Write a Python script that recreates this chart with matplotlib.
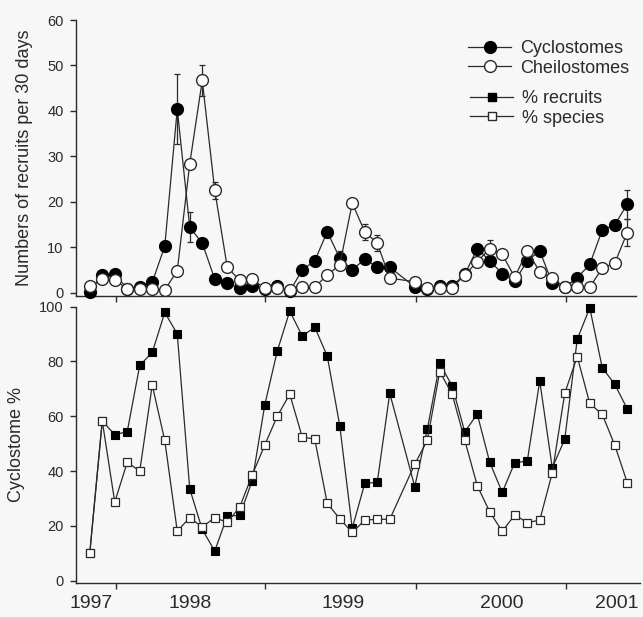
import numpy as np
import matplotlib
matplotlib.use("Agg")
import matplotlib.pyplot as plt
from matplotlib.lines import Line2D

plt.rcParams['font.family'] = ['Liberation Sans', 'DejaVu Sans']

# ---------------- data ----------------
# sampling month index (month 25 not sampled)
months = list(range(0, 25)) + list(range(26, 44))

cyclostomes = [0.2, 3.9, 4.2, 0.8, 1.2, 2.3, 10.2, 40.4, 14.4, 10.9, 3.0, 2.1, 1.0,
               1.4, 0.8, 1.4, 0.3, 5.0, 7.0, 13.4, 7.6, 5.0, 7.4, 5.6, 5.6,
               1.3, 0.9, 1.4, 1.5, 4.0, 9.7, 7.0, 4.2, 2.5, 7.0, 9.2, 2.1, 1.2,
               3.3, 6.2, 13.8, 14.9, 19.5]
cheilostomes = [1.4, 2.9, 2.8, 0.8, 0.8, 0.7, 0.6, 4.8, 28.4, 46.7, 22.5, 5.6, 2.7,
                2.9, 1.0, 1.1, 0.5, 1.2, 1.2, 3.9, 6.1, 19.7, 13.4, 10.9, 3.2,
                2.4, 1.0, 1.1, 1.1, 3.9, 6.8, 9.7, 8.4, 3.4, 9.2, 4.6, 3.2, 1.2,
                1.2, 1.2, 5.4, 6.5, 13.2]
# error bars (month -> error)
cyclo_err = {7: 7.7, 8: 3.3, 20: 1.5, 43: 3.2}
cheilo_err = {9: 3.4, 10: 1.9, 22: 1.8, 23: 1.7, 32: 1.9, 43: 2.9}

pct_recruits = [10.0, 58.3, 53.3, 54.4, 78.6, 83.3, 97.9, 90.1, 33.5, 18.7, 10.8, 23.6,
                23.8, 36.5, 64.1, 83.8, 98.4, 89.3, 92.5, 82.0, 56.6, 19.1, 35.5, 35.9,
                68.4, 34.3, 55.2, 79.3, 71.0, 54.3, 60.8, 43.2, 32.2, 43.1, 43.6, 72.9,
                41.2, 51.6, 88.1, 99.6, 77.7, 71.7, 62.7]
pct_species = [10.0, 58.3, 28.7, 43.2, 40.0, 71.4, 51.2, 18.1, 23.0, 19.6, 23.0, 21.3,
               26.9, 38.6, 49.5, 60.0, 68.1, 52.4, 51.7, 28.2, 22.6, 17.6, 22.1, 22.4,
               22.4, 42.5, 51.2, 76.3, 68.0, 51.3, 34.7, 25.1, 18.0, 24.0, 21.2, 22.1,
               39.3, 68.4, 81.8, 64.7, 60.7, 49.5, 35.8]

year_tick_months = [2.1, 14.05, 26.1, 38.1]
year_label_months = [0.1, 8.05, 20.3, 33.0, 42.2]
year_labels = ['1997', '1998', '1999', '2000', '2001']

top_yticks = [0, 10, 20, 30, 40, 50, 60]
bot_yticks = [0, 20, 40, 60, 80, 100]

# ---------------- style ----------------
W, H = 643, 617
bg = '#f8f7f7'
ink = '#2a2a2a'
fig = plt.figure(figsize=(W / 100, H / 100), dpi=100, facecolor=bg)

def px(l, t, r, b):
    return [l / W, 1 - b / H, (r - l) / W, (b - t) / H]

ax1 = fig.add_axes(px(76, 20, 636, 296.3), facecolor=bg)
ax2 = fig.add_axes(px(76, 306.7, 640, 582.6), facecolor=bg)

for ax in (ax1, ax2):
    for s in ('top', 'right'):
        ax.spines[s].set_visible(False)
    for s in ('left', 'bottom'):
        ax.spines[s].set_color(ink)
        ax.spines[s].set_linewidth(1.0)
    ax.tick_params(axis='both', which='major', direction='out', length=4, width=1,
                   color=ink, labelcolor=ink, labelsize=10.5, pad=5)

lw = 0.9
# ---- top panel
ax1.set_xlim(-1.1, 43.7)
ax1.set_ylim(-0.8, 60)
m_arr = np.array(months)
c_arr = np.array(cyclostomes)
h_arr = np.array(cheilostomes)
ce_idx = [months.index(k) for k in cyclo_err]
he_idx = [months.index(k) for k in cheilo_err]
ax1.errorbar(m_arr[ce_idx], c_arr[ce_idx], yerr=list(cyclo_err.values()), fmt='none',
             ecolor=ink, elinewidth=0.9, capsize=2.5, capthick=0.9, zorder=2)
ax1.errorbar(m_arr[he_idx], h_arr[he_idx], yerr=list(cheilo_err.values()), fmt='none',
             ecolor=ink, elinewidth=0.9, capsize=2.5, capthick=0.9, zorder=2)
ax1.plot(months, cyclostomes, '-o', color=ink, lw=lw, ms=8.5, mfc='black', mec='black',
         mew=1.0, clip_on=False, zorder=3)
ax1.plot(months, cheilostomes, '-o', color=ink, lw=lw, ms=8.5, mfc='white', mec=ink,
         mew=1.0, clip_on=False, zorder=4)
ax1.set_yticks(top_yticks)
ax1.set_xticks(year_tick_months)
ax1.set_xticklabels([])
ax1.set_ylabel('Numbers of recruits per 30 days', fontsize=13, color=ink)
ax1.yaxis.set_label_coords(-0.077, 0.5)

# ---- bottom panel
ax2.set_xlim(-1.1, 43.7 + 4 / 12.5)
ax2.set_ylim(-0.7, 100)
ax2.plot(months, pct_recruits, '-s', color=ink, lw=lw, ms=6, mfc='black', mec='black',
         mew=0.8, clip_on=False, zorder=3)
ax2.plot(months, pct_species, '-s', color=ink, lw=lw, ms=6, mfc='white', mec=ink,
         mew=0.9, clip_on=False, zorder=4)
ax2.set_yticks(bot_yticks)
ax2.set_xticks(year_tick_months)
ax2.set_xticklabels([])
ax2.set_xticks(year_label_months, minor=True)
ax2.set_xticklabels(year_labels, minor=True)
ax2.tick_params(axis='x', which='minor', length=0, labelsize=14, pad=9, labelcolor=ink)
ax2.set_ylabel('Cyclostome %', fontsize=13, color=ink)
ax2.yaxis.set_label_coords(-0.09, 0.5)

# ---- legends
h_c = Line2D([], [], color=ink, lw=lw, marker='o', ms=8.5, mfc='black', mec='black')
h_h = Line2D([], [], color=ink, lw=lw, marker='o', ms=8.5, mfc='white', mec=ink)
h_r = Line2D([], [], color=ink, lw=lw, marker='s', ms=5.5, mfc='black', mec='black')
h_s = Line2D([], [], color=ink, lw=lw, marker='s', ms=5.5, mfc='white', mec=ink)
leg1 = fig.legend([h_c, h_h], ['Cyclostomes', 'Cheilostomes'], loc='upper left',
                  bbox_to_anchor=(468 / W, 1 - 40 / H), frameon=False, fontsize=13,
                  handlelength=2.4, handletextpad=0.5, labelspacing=0.15,
                  borderpad=0, borderaxespad=0, labelcolor=ink)
leg2 = fig.legend([h_r, h_s], ['% recruits', '% species'], loc='upper left',
                  bbox_to_anchor=(470 / W, 1 - 90 / H), frameon=False, fontsize=13,
                  handlelength=2.4, handletextpad=0.5, labelspacing=0.15,
                  borderpad=0, borderaxespad=0, labelcolor=ink)

fig.savefig('out.png', dpi=100, facecolor=bg)
